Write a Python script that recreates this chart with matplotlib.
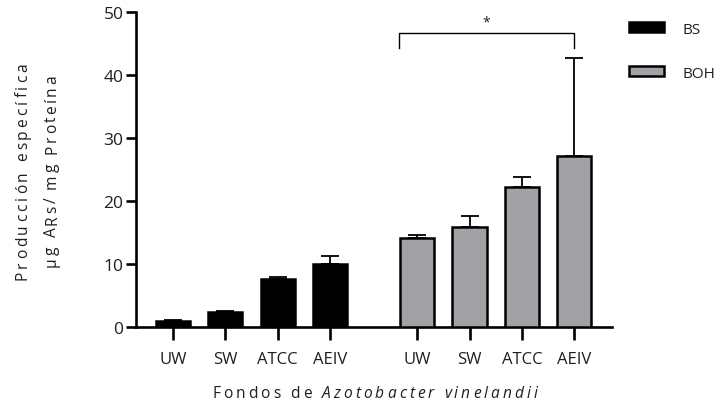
import matplotlib
matplotlib.use("Agg")
import matplotlib.pyplot as plt
from matplotlib.patches import Patch
from matplotlib.font_manager import FontProperties
from matplotlib.transforms import IdentityTransform
import numpy as np

plt.rcParams['font.family'] = ['Open Sans', 'DejaVu Sans']

categories = ["UW", "SW", "ATCC", "AEIV"]
bs_values = [1.0, 2.4, 7.6, 10.0]
bs_err = [0.15, 0.15, 0.4, 1.3]
boh_values = [14.1, 15.9, 22.3, 27.2]
boh_err = [0.5, 1.7, 1.5, 15.5]
series = ["BS", "BOH"]
yticks = [0, 10, 20, 30, 40, 50]
ylabel_lines = ["Producción específica", "μg ARs/ mg Proteína"]
xlabel_parts = [("Fondos de ", "normal"), ("Azotobacter vinelandii", "italic")]

W, H = 720, 406
fig = plt.figure(figsize=(W / 100, H / 100), dpi=100)
ax = fig.add_axes([136/W, 78/H, (612-136)/W, 315/H])

x_bs = np.arange(4)
x_boh = np.arange(4) + 4.66
w = 0.65
txt = '#1f1f1f'
gray = '#a2a2a6'

ax.bar(x_bs, bs_values, width=w, color='black', edgecolor='black', linewidth=1.8, zorder=3)
ax.errorbar(x_bs, bs_values, yerr=[np.zeros(4), bs_err], fmt='none', ecolor='black',
            elinewidth=1.3, capsize=6.2, capthick=1.3, zorder=2)
ax.bar(x_boh, boh_values, width=w, color=gray, edgecolor='black', linewidth=1.8, zorder=3)
ax.errorbar(x_boh, boh_values, yerr=[np.zeros(4), boh_err], fmt='none', ecolor='black',
            elinewidth=1.3, capsize=6.2, capthick=1.3, zorder=2)

# significance bracket
bx0, bx1 = x_boh[0] - 0.35, x_boh[3]
ax.plot([bx0, bx0, bx1, bx1], [44.3, 46.6, 46.6, 44.3], color='black', lw=1.0, clip_on=False)
ax.text((bx0 + bx1) / 2, 47.2, '*', ha='center', va='bottom', fontsize=10, color=txt)

ax.set_xlim(-0.706, 8.38)
ax.set_ylim(0, 50)
ax.set_yticks(yticks)
ax.set_yticklabels([str(t) for t in yticks], fontsize=12.5, color=txt)
ax.set_xticks(list(x_bs) + list(x_boh))
ax.set_xticklabels(categories + categories, fontsize=12, color=txt)

for s in ['top', 'right']:
    ax.spines[s].set_visible(False)
for s in ['left', 'bottom']:
    ax.spines[s].set_linewidth(1.9)
ax.tick_params(axis='y', length=7, width=1.9, pad=2)
ax.tick_params(axis='x', length=9, width=1.9, pad=8)

# letter-spaced labels
renderer = fig.canvas.get_renderer()

def spaced(segments, start, end, base, vertical, fontsize=11.2):
    chars = []
    for text, style in segments:
        prop = FontProperties(family=['Open Sans', 'DejaVu Sans'], style=style, size=fontsize)
        for c in text:
            chars.append((c, prop))
    advs = []
    for c, prop in chars:
        w1 = renderer.get_text_width_height_descent(c + '|', prop, ismath=False)[0]
        w0 = renderer.get_text_width_height_descent('|', prop, ismath=False)[0]
        advs.append(w1 - w0)
    sp = ((end - start) - sum(advs)) / (len(chars) - 1)
    pos = start
    for (c, prop), a in zip(chars, advs):
        if vertical:
            fig.text(base, pos, c, fontproperties=prop, color=txt, rotation=90,
                     rotation_mode='anchor', ha='left', va='baseline',
                     transform=IdentityTransform())
        else:
            fig.text(pos, base, c, fontproperties=prop, color=txt,
                     ha='left', va='baseline', transform=IdentityTransform())
        pos += a + sp

spaced([(ylabel_lines[0], 'normal')], H - 280, H - 63, 27, True)
spaced([(ylabel_lines[1], 'normal')], H - 267, H - 75, 56, True)
spaced(xlabel_parts, 212, 537, H - 398, False)

handles = [Patch(facecolor='black', edgecolor='black', linewidth=1.8),
           Patch(facecolor=gray, edgecolor='black', linewidth=1.8)]
fig.legend(handles, series, loc='upper left', bbox_to_anchor=(615/W, 1 - 9/H),
           frameon=False, fontsize=11, handlelength=2.3, handleheight=0.62,
           labelspacing=1.9, handletextpad=1.2, labelcolor=txt)

fig.savefig('out.png', dpi=100)
